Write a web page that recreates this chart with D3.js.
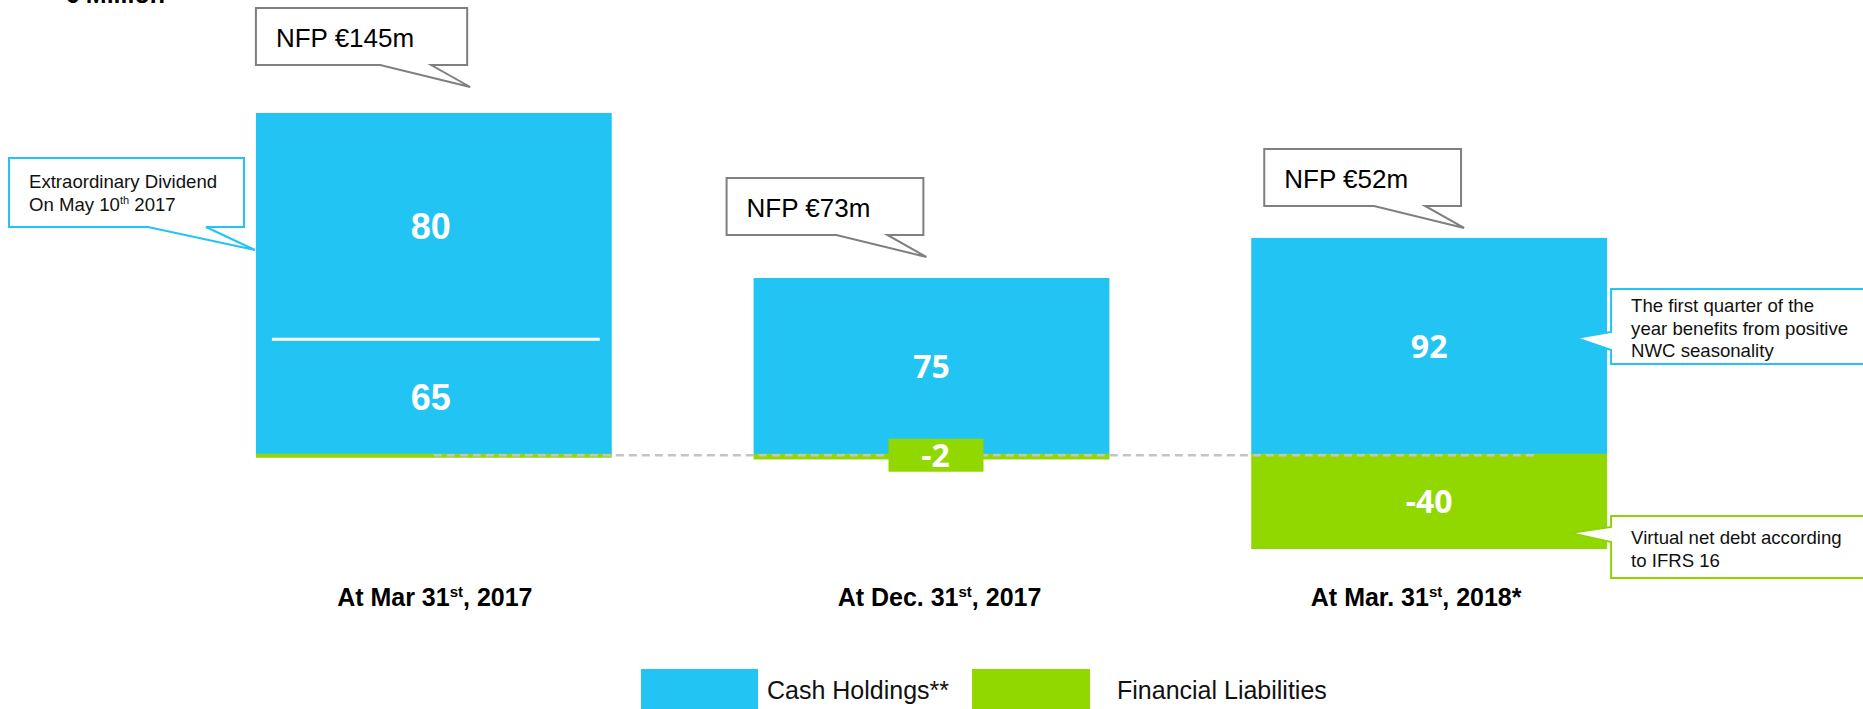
<!DOCTYPE html>
<html>
<head>
<meta charset="utf-8">
<script src="https://cdn.jsdelivr.net/npm/d3@7"></script>
<style>
  body { margin: 0; background: #fff; overflow: hidden; }
  svg { display: block; font-family: Arial, "Liberation Sans", sans-serif; }
</style>
</head>
<body>
<div id="chart"></div>
<script>
var svgWidth = 1863;
var svgHeight = 709;

// chart values
var categories = [
  ["At Mar 31", "st", ", 2017"],
  ["At Dec. 31", "st", ", 2017"],
  ["At Mar. 31", "st", ", 2018*"]
];
var cashHoldings = [145, 75, 92];
var financialLiabilities = [0, -2, -40];
var nfpValues = [145, 73, 52];
var cashSplit = [65, 80]; // first bar: after / before the dividend
var seriesNames = ["Cash Holdings**", "Financial Liabilities"];

var blue = "#22c4f3";
var green = "#90d800";

var svg = d3.select("#chart")
  .append("svg")
  .attr("width", svgWidth)
  .attr("height", svgHeight);

// scales
var xBand = d3.scaleBand()
  .domain(d3.range(categories.length))
  .range([185, 1678])
  .paddingInner(0.285)
  .paddingOuter(0.1425);

var yLinear = d3.scaleLinear()
  .domain([-40, 145])
  .range([549, 113]);

var bw = xBand.bandwidth();
var y0 = yLinear(0);

// unit title (cut at the top edge)
svg.append("text")
  .attr("x", 65)
  .attr("y", 3)
  .attr("font-size", 25)
  .attr("font-weight", "bold")
  .text("€ Million");

// cash bars
svg.selectAll(".cash")
  .data(cashHoldings)
  .enter()
  .append("rect")
  .attr("class", "cash")
  .attr("x", (d, i) => xBand(i))
  .attr("y", d => yLinear(d))
  .attr("width", bw)
  .attr("height", d => y0 - yLinear(d))
  .attr("fill", blue);

// financial liabilities (thin strip when close to zero)
svg.selectAll(".debt")
  .data(financialLiabilities)
  .enter()
  .append("rect")
  .attr("class", "debt")
  .attr("x", (d, i) => xBand(i))
  .attr("y", y0 - 1)
  .attr("width", bw)
  .attr("height", d => Math.max(yLinear(d) - y0, 3) + 1)
  .attr("fill", green);

// zero line
svg.append("line")
  .attr("x1", xBand(0) + bw / 2)
  .attr("x2", xBand(2) + bw * 0.805)
  .attr("y1", y0 + 0.5)
  .attr("y2", y0 + 0.5)
  .attr("stroke", "#c4c4c4")
  .attr("stroke-width", 2.5)
  .attr("stroke-dasharray", "8,5");

// dividend split in the first bar
var dividerAt = 49;
svg.append("line")
  .attr("x1", xBand(0) + 16)
  .attr("x2", xBand(0) + bw - 12)
  .attr("y1", yLinear(dividerAt))
  .attr("y2", yLinear(dividerAt))
  .attr("stroke", "#fff")
  .attr("stroke-width", 3);

svg.selectAll(".split-label")
  .data(cashSplit)
  .enter()
  .append("text")
  .attr("class", "split-label")
  .attr("x", xBand(0) + bw / 2 - 3)
  .attr("y", (d, i) => i === 0 ? yLinear(dividerAt / 2) : yLinear((dividerAt + cashHoldings[0]) / 2))
  .attr("dy", "0.36em")
  .attr("text-anchor", "middle")
  .attr("font-size", 36)
  .attr("font-weight", "bold")
  .attr("fill", "#fff")
  .text(d => d);

// cash labels for the other bars
svg.selectAll(".cash-label")
  .data(cashHoldings.slice(1))
  .enter()
  .append("text")
  .attr("class", "cash-label")
  .attr("x", (d, i) => xBand(i + 1) + bw / 2)
  .attr("y", d => yLinear(d / 2))
  .attr("dy", "0.36em")
  .attr("text-anchor", "middle")
  .attr("font-family", "'Open Sans', sans-serif")
  .attr("font-size", 32)
  .attr("font-weight", "bold")
  .attr("fill", "#fff")
  .text(d => d);

// -2 tag sits on the zero line
svg.append("rect")
  .attr("x", xBand(1) + bw / 2 - 43)
  .attr("y", y0 - 16)
  .attr("width", 95)
  .attr("height", 33)
  .attr("fill", green);

svg.append("text")
  .attr("x", xBand(1) + bw / 2 + 4)
  .attr("y", y0 + 1)
  .attr("dy", "0.36em")
  .attr("text-anchor", "middle")
  .attr("font-family", "'Open Sans', sans-serif")
  .attr("font-size", 32)
  .attr("font-weight", "bold")
  .attr("fill", "#fff")
  .text(financialLiabilities[1]);

// -40 label
svg.append("text")
  .attr("x", xBand(2) + bw / 2)
  .attr("y", yLinear(financialLiabilities[2] / 2))
  .attr("dy", "0.36em")
  .attr("text-anchor", "middle")
  .attr("font-family", "'Open Sans', sans-serif")
  .attr("font-size", 32)
  .attr("font-weight", "bold")
  .attr("fill", "#fff")
  .text(financialLiabilities[2]);

// NFP speech boxes
var boxShift = [0, -27, 13];
var tipGap = [26, 21, 10];

nfpValues.forEach(function(v, i) {
  var g = svg.append("g");
  var tipY = yLinear(cashHoldings[i]) - tipGap[i];
  var left = xBand(i) + boxShift[i];
  var top = tipY - 79;
  var label = g.append("text")
    .attr("x", left + 20)
    .attr("y", top + 39)
    .attr("font-size", 26)
    .attr("fill", "#000")
    .text("NFP €" + v + "m");
  var w = label.node().getComputedTextLength() + 73;
  var right = left + w;
  var path = d3.path();
  path.moveTo(left, top);
  path.lineTo(right, top);
  path.lineTo(right, top + 57);
  path.lineTo(right - 36, top + 57);
  path.lineTo(right + 3, tipY);
  path.lineTo(right - 87, top + 57);
  path.lineTo(left, top + 57);
  path.closePath();
  g.insert("path", "text")
    .attr("d", path.toString())
    .attr("fill", "#fff")
    .attr("stroke", "#7f7f7f")
    .attr("stroke-width", 2);
});

// side notes
function note(d, color, lines, tx, ty) {
  svg.append("path")
    .attr("d", d)
    .attr("fill", "#fff")
    .attr("stroke", color)
    .attr("stroke-width", 2);
  var t = svg.append("text")
    .attr("font-size", 18.6)
    .attr("fill", "#111");
  lines.forEach(function(line, k) {
    var row = t.append("tspan").attr("x", tx).attr("y", ty + k * 22.5);
    line.forEach(function(part, j) {
      var s = row.append("tspan").text(part);
      if (j % 2 === 1) s.attr("font-size", 11).attr("dy", -7);
      else if (j > 0) s.attr("dy", 7);
    });
  });
}

note("M9,158H244V227H206L255,250L148,227H9Z", blue,
  [["Extraordinary Dividend"], ["On May 10", "th", " 2017"]], 29, 188);

var bx = xBand(2) + bw;
note("M" + (bx + 4) + ",289H1875V364H" + (bx + 4) + "V350L" + (bx - 31) + ",338L" + (bx + 4) + ",332Z", blue,
  [["The first quarter of the"], ["year benefits from positive"], ["NWC seasonality"]], bx + 24, 312);

note("M" + (bx + 4) + ",516H1875V578H" + (bx + 4) + "V542L" + (bx - 37) + ",533L" + (bx + 4) + ",527Z", "#8fd400",
  [["Virtual net debt according"], ["to IFRS 16"]], bx + 24, 544);

// category labels
svg.selectAll(".cat")
  .data(categories)
  .enter()
  .append("text")
  .attr("class", "cat")
  .attr("x", (d, i) => xBand(i) + bw / 2 + [1, 8, -13][i])
  .attr("y", 606)
  .attr("text-anchor", "middle")
  .attr("font-size", 25)
  .attr("font-weight", "bold")
  .each(function(parts) {
    var t = d3.select(this);
    t.append("tspan").text(parts[0]);
    t.append("tspan").attr("font-size", 15).attr("dy", -9).text(parts[1]);
    t.append("tspan").attr("dy", 9).text(parts[2]);
  });

// legend
var legendX = [641, 972];
var legend = svg.selectAll(".legend")
  .data(seriesNames)
  .enter()
  .append("g")
  .attr("class", "legend")
  .attr("transform", (d, i) => `translate(${legendX[i]}, 669)`);

legend.append("rect")
  .attr("width", (d, i) => i === 0 ? 117 : 118)
  .attr("height", 45)
  .attr("fill", (d, i) => i === 0 ? blue : green);

legend.append("text")
  .attr("x", (d, i) => i === 0 ? 126 : 145)
  .attr("y", 30)
  .attr("font-size", 25)
  .attr("fill", "#111")
  .text(d => d);
</script>
</body>
</html>
